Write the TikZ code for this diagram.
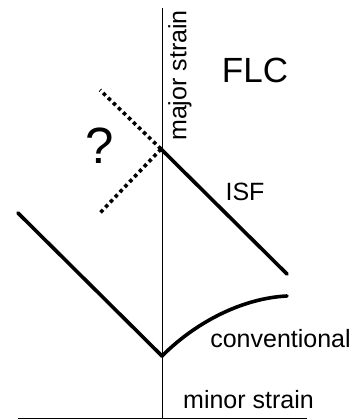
\documentclass[tikz,border=0pt]{standalone}
\usepackage{fontspec}
\setmainfont{Liberation Sans}
\begin{document}
\begin{tikzpicture}[x=1pt,y=-1pt,
  axis/.style={line width=1pt},
  curve/.style={line width=3.6pt,line cap=round},
  guess/.style={line width=3.6pt,dash pattern=on 3.6pt off 3.4pt},
  lbl/.style={inner sep=0pt,outer sep=0pt,font=\fontsize{25}{30}\selectfont},
  big/.style={inner sep=0pt,outer sep=0pt,font=\fontsize{35}{42}\selectfont}]
  \useasboundingbox (0,0) rectangle (357,419);
  % axes
  \coordinate (ytop) at (162.5,8);
  \coordinate (ybot) at (162.5,419);
  \coordinate (xl) at (18,418);
  \coordinate (xr) at (307,418);
  \draw[axis] (ytop) -- (ybot);
  \draw[axis] (xl) -- (xr);
  % key points of the limit curves
  \coordinate (v) at (162,356);
  \coordinate (lend) at (18,213);
  \coordinate (cend) at (287,296);
  \coordinate (knee) at (161,149);
  \coordinate (iend) at (287,274);
  \coordinate (dup) at (100,90);
  \coordinate (dlo) at (100,213);
  % conventional FLC: left branch and curved right branch
  \draw[curve] (lend) -- (v);
  \draw[curve] (v) .. controls (198,320) and (245,298) .. (cend);
  % ISF line
  \draw[curve] (knee) -- (iend);
  % uncertain continuation
  \draw[guess] (knee) -- (dup);
  \draw[guess] (knee) -- (dlo);
  % labels
  \node[lbl,rotate=90] (major) at (180,75.5) {major strain};
  \node[big] (flc) at (255,70) {FLC};
  \node[inner sep=0pt,font=\fontsize{51}{60}\selectfont] (q) at (99.5,145.5) {?};
  \node[lbl] (isf) at (245,192) {ISF};
  \node[lbl] (conv) at (280.5,339) {conventional};
  \node[lbl] (minor) at (248.5,400) {minor strain};
\end{tikzpicture}
\end{document}
